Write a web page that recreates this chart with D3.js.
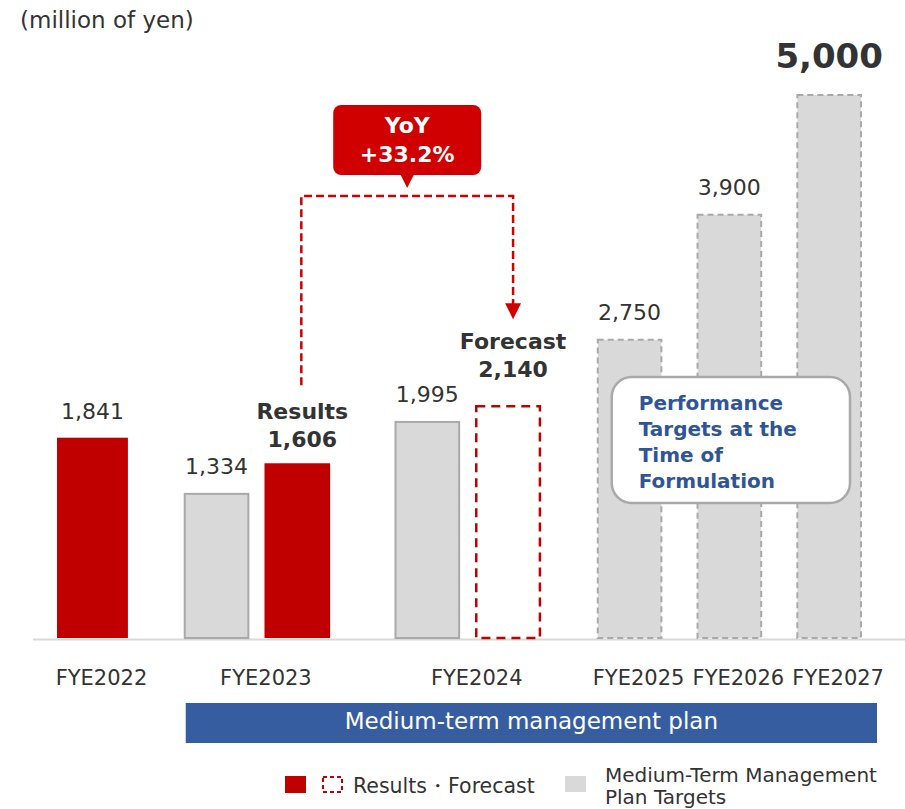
<!DOCTYPE html>
<html lang="en">
<head>
<meta charset="UTF-8">
<title>Net sales vs Medium-term plan</title>
<script src="https://cdn.jsdelivr.net/npm/d3@7/dist/d3.min.js"></script>
<style>
  body { margin: 0; background: #fff; }
  svg { display: block; font-family: "DejaVu Sans", Verdana, sans-serif; }
</style>
</head>
<body>
<svg width="905" height="809"></svg>
<script>
  // data
  const categories = ["FYE2022", "FYE2023", "FYE2024", "FYE2025", "FYE2026", "FYE2027"];
  const targetValues = [null, 1334, 1995, 2750, 3900, 5000];
  const resultValues = [1841, 1606, null, null, null, null];
  const forecastValues = [null, null, 2140, null, null, null];
  const yoyText = ["YoY", "+33.2%"];
  const unitText = "(million of yen)";
  const planText = "Medium-term management plan";
  const boxText = ["Performance", "Targets at the", "Time of", "Formulation"];
  const legendText = ["Results・Forecast", "Medium-Term Management", "Plan Targets"];

  const red = "#c00000";
  const lineRed = "#d00000";
  const gray = "#d9d9d9";
  const grayStroke = "#a9a9a9";
  const textColor = "#333";

  const svg = d3.select("svg");
  const baseY = 638;

  const y = d3.scaleLinear().domain([0, 5000]).range([baseY, 94]);

  // group bars by year
  const groups = categories.map((c, i) => {
    const bars = [];
    if (targetValues[i] != null) bars.push({ cat: c, kind: "target", value: targetValues[i] });
    if (resultValues[i] != null) bars.push({ cat: c, kind: "result", value: resultValues[i] });
    if (forecastValues[i] != null) bars.push({ cat: c, kind: "forecast", value: forecastValues[i] });
    return { cat: c, bars: bars, planOnly: bars.every(b => b.kind === "target") };
  });

  // widths in "bar units"
  const innerGap = 0.23, soloW = 1.08;
  const gapBetween = (a, b) => {
    if (a.planOnly && b.planOnly) return 0.52;
    if (a.bars.length === 2 && b.bars.length === 2) return 0.98;
    return 0.85;
  };
  let u = 0;
  groups.forEach((g, gi) => {
    if (gi > 0) u += gapBetween(groups[gi - 1], g);
    g.start = u;
    g.bars.forEach((b, bi) => {
      if (bi > 0) u += innerGap;
      b.w = (g.bars.length === 1 && b.kind === "result") ? soloW : 1;
      b.u0 = u; u += b.w; b.u1 = u;
      b.planOnly = g.planOnly;
    });
    g.end = u;
  });
  const x = d3.scaleLinear().domain([0, u]).range([57, 862]);
  const allBars = groups.flatMap(g => g.bars);
  const cx = b => (x(b.u0) + x(b.u1)) / 2;

  const lastResult = allBars.filter(b => b.kind === "result").pop();
  const forecast = allBars.find(b => b.kind === "forecast");
  const maxTarget = d3.max(targetValues);

  // baseline
  svg.append("line")
    .attr("x1", 33).attr("x2", 905)
    .attr("y1", baseY + 1.5).attr("y2", baseY + 1.5)
    .attr("stroke", gray).attr("stroke-width", 2);

  // bars
  svg.append("g").selectAll("rect")
    .data(allBars)
    .join("rect")
    .attr("x", d => d.kind === "result" ? x(d.u0) : x(d.u0) + 1)
    .attr("width", d => d.kind === "result" ? x(d.u1) - x(d.u0) : x(d.u1) - x(d.u0) - 2)
    .attr("y", d => d.kind === "result" ? y(d.value) : y(d.value) + 1)
    .attr("height", d => d.kind === "result" ? baseY - y(d.value) : baseY - y(d.value) - 1)
    .attr("fill", d => d.kind === "result" ? red : d.kind === "forecast" ? "#fff" : gray)
    .attr("stroke", d => d.kind === "result" ? "none" : d.kind === "forecast" ? red : grayStroke)
    .attr("stroke-width", d => d.kind === "forecast" ? 2.5 : 2)
    .attr("stroke-dasharray", d => d.kind === "forecast" ? "9,6" : d.planOnly ? "6,4" : null);

  // value labels
  const fmt = d3.format(",");
  allBars.forEach(b => {
    const top = y(b.value);
    if (b === lastResult || b === forecast) {
      const gap = b === lastResult ? 16 : 28;
      const t = svg.append("text")
        .attr("x", cx(b) + 5).attr("text-anchor", "middle")
        .attr("fill", textColor).attr("font-weight", "bold").attr("font-size", 22);
      t.append("tspan").attr("x", cx(b) + 5).attr("y", top - gap - 28)
        .text(b === lastResult ? "Results" : "Forecast");
      t.append("tspan").attr("x", cx(b) + 5).attr("y", top - gap).text(fmt(b.value));
    } else if (b.kind === "target" && b.value === maxTarget) {
      svg.append("text")
        .attr("x", cx(b)).attr("y", top - 26).attr("text-anchor", "middle")
        .attr("fill", textColor).attr("font-weight", "bold").attr("font-size", 34)
        .text(fmt(b.value));
    } else {
      svg.append("text")
        .attr("x", cx(b)).attr("y", top - 19).attr("text-anchor", "middle")
        .attr("fill", textColor).attr("font-size", 22)
        .text(fmt(b.value));
    }
  });

  // YoY connector
  const x1 = cx(lastResult) + 4, x2 = cx(forecast) + 5;
  const connY = 196;
  const leftEnd = y(lastResult.value) - 16 - 28 - 34;
  const tipY = y(forecast.value) - 28 - 28 - 30;
  svg.append("path")
    .attr("d", `M${x1},${leftEnd}V${connY}H${x2}V${tipY - 15}`)
    .attr("fill", "none").attr("stroke", lineRed)
    .attr("stroke-width", 2.5).attr("stroke-dasharray", "8,4");
  svg.append("path")
    .attr("d", `M${x2 - 8},${tipY - 16}L${x2 + 8},${tipY - 16}L${x2},${tipY}Z`)
    .attr("fill", lineRed);

  // YoY callout
  const mid = (x1 + x2) / 2;
  svg.append("rect")
    .attr("x", mid - 74).attr("y", 105).attr("width", 148).attr("height", 70)
    .attr("rx", 8).attr("fill", lineRed);
  svg.append("path")
    .attr("d", `M${mid - 7},174L${mid + 7},174L${mid},188Z`)
    .attr("fill", lineRed);
  svg.selectAll(".yoy")
    .data(yoyText)
    .join("text")
    .attr("x", mid).attr("y", (d, i) => 133 + i * 29)
    .attr("text-anchor", "middle").attr("fill", "#fff")
    .attr("font-weight", "bold").attr("font-size", 22)
    .text(d => d);

  // unit
  svg.append("text")
    .attr("x", 20).attr("y", 28)
    .attr("fill", textColor).attr("font-size", 23)
    .text(unitText);

  // performance targets box
  const plan = groups.filter(g => g.planOnly);
  const bx0 = x(plan[0].start) + 15, bx1 = x(plan[plan.length - 1].end) - 12;
  svg.append("rect")
    .attr("x", bx0).attr("y", 377).attr("width", bx1 - bx0).attr("height", 126)
    .attr("rx", 20).attr("fill", "#fff")
    .attr("stroke", grayStroke).attr("stroke-width", 2.5);
  svg.selectAll(".box")
    .data(boxText)
    .join("text")
    .attr("x", bx0 + 27).attr("y", (d, i) => 410 + i * 26)
    .attr("fill", "#2f5597").attr("font-weight", "bold").attr("font-size", 20)
    .text(d => d);

  // category labels
  svg.selectAll(".cat")
    .data(groups)
    .join("text")
    .attr("x", g => (x(g.start) + x(g.end)) / 2 + 9)
    .attr("y", 685)
    .attr("text-anchor", "middle")
    .attr("fill", textColor).attr("font-size", 21)
    .text(g => g.cat);

  // medium-term plan band
  const withTarget = groups.filter(g => g.bars.some(b => b.kind === "target"));
  const px0 = x(withTarget[0].start) + 2, px1 = x(withTarget[withTarget.length - 1].end) + 15;
  svg.append("rect")
    .attr("x", px0).attr("y", 703).attr("width", px1 - px0).attr("height", 40)
    .attr("fill", "#375da1");
  svg.append("text")
    .attr("x", (px0 + px1) / 2).attr("y", 729)
    .attr("text-anchor", "middle").attr("fill", "#fff").attr("font-size", 23)
    .text(planText);

  // legend
  const lg = svg.append("g");
  lg.append("rect").attr("x", 285).attr("y", 776).attr("width", 21).attr("height", 17).attr("fill", red);
  lg.append("rect").attr("x", 323).attr("y", 777).attr("width", 19).attr("height", 15)
    .attr("fill", "none").attr("stroke", red).attr("stroke-width", 2).attr("stroke-dasharray", "4,3");
  lg.append("text").attr("x", 353).attr("y", 793)
    .attr("fill", textColor).attr("font-size", 20.5).text(legendText[0]);
  lg.append("rect").attr("x", 565).attr("y", 776).attr("width", 21).attr("height", 16).attr("fill", gray);
  const lt = lg.append("text").attr("fill", textColor).attr("font-size", 20);
  lt.append("tspan").attr("x", 605).attr("y", 782).text(legendText[1]);
  lt.append("tspan").attr("x", 605).attr("y", 804).text(legendText[2]);
</script>
</body>
</html>
